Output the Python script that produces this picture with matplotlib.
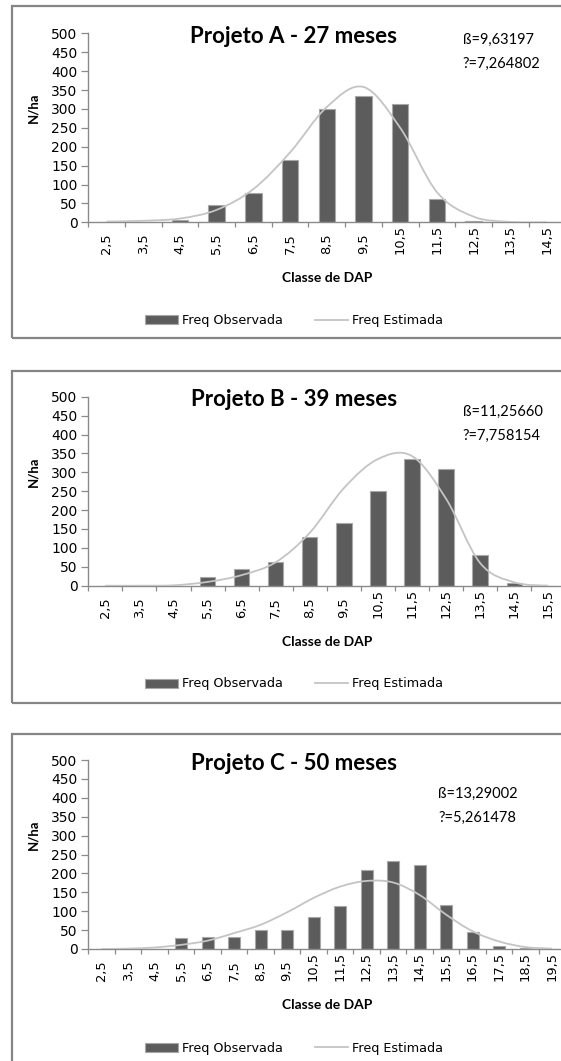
import matplotlib
matplotlib.use("Agg")
import matplotlib.pyplot as plt
from matplotlib.path import Path
from matplotlib.patches import PathPatch, Rectangle, Patch
from matplotlib.lines import Line2D
from matplotlib.transforms import blended_transform_factory, ScaledTranslation

# Projeto A - 27 meses
classes_a = ["2,5", "3,5", "4,5", "5,5", "6,5", "7,5", "8,5", "9,5", "10,5",
             "11,5", "12,5", "13,5", "14,5"]
obs_a = [1, 2, 5, 45, 77, 166, 300, 335, 312, 62, 4, 0, 0]
est_a = [2, 4, 10, 33, 88, 185, 305, 358, 250, 80, 15, 1, 0]

# Projeto B - 39 meses
classes_b = ["2,5", "3,5", "4,5", "5,5", "6,5", "7,5", "8,5", "9,5", "10,5",
             "11,5", "12,5", "13,5", "14,5", "15,5"]
obs_b = [0, 0, 0, 24, 44, 63, 130, 166, 251, 335, 309, 80, 7, 0]
est_b = [0, 0, 1, 10, 28, 62, 140, 258, 335, 343, 230, 60, 9, 0]

# Projeto C - 50 meses
classes_c = ["2,5", "3,5", "4,5", "5,5", "6,5", "7,5", "8,5", "9,5", "10,5",
             "11,5", "12,5", "13,5", "14,5", "15,5", "16,5", "17,5", "18,5", "19,5"]
obs_c = [0, 0, 0, 28, 33, 33, 49, 49, 85, 113, 208, 232, 223, 117, 45, 7, 3, 0]
est_c = [0, 1, 4, 11, 22, 42, 64, 97, 135, 165, 180, 176, 143, 91, 47, 20, 5, 1]

titles = ["Projeto A - 27 meses", "Projeto B - 39 meses", "Projeto C - 50 meses"]
beta_labels = ["ß=9,63197", "ß=11,25660", "ß=13,29002"]
gamma_labels = ["?=7,264802", "?=7,758154", "?=5,261478"]

W, H = 561, 1061
BAR_COLOR = "#5c5c5c"
BAR_EDGE = "#a8a8a8"
LINE_COLOR = "#c4c4c4"
AXIS_COLOR = "#8a8a8a"
FRAME_COLOR = "#858585"


def smooth_path(xs, ys):
    # Bezier curve through the points, like Excel's smoothed line
    n = len(xs)
    verts = [(xs[0], ys[0])]
    codes = [Path.MOVETO]
    for i in range(n - 1):
        xp, yp = xs[max(i - 1, 0)], ys[max(i - 1, 0)]
        xn, yn = xs[min(i + 2, n - 1)], ys[min(i + 2, n - 1)]
        c1 = (xs[i] + (xs[i + 1] - xp) / 6, ys[i] + (ys[i + 1] - yp) / 6)
        c2 = (xs[i + 1] - (xn - xs[i]) / 6, ys[i + 1] - (yn - ys[i]) / 6)
        verts += [c1, c2, (xs[i + 1], ys[i + 1])]
        codes += [Path.CURVE4] * 3
    return Path(verts, codes)


def draw_panel(fig, frame_top, ax_top, classes, obs, est, title,
               beta, gamma, ann_x, ann_dy, legend_y):
    # chart frame (runs off the right edge like the original)
    fig.patches.append(Rectangle(
        (12 / W, 1 - (frame_top + 332) / H), 566 / W, 332 / H,
        transform=fig.transFigure, fill=False,
        edgecolor=FRAME_COLOR, linewidth=1.6,
    ))

    ax = fig.add_axes([88.3 / W, 1 - (ax_top + 189) / H, 477 / W, 189 / H])
    n = len(classes)
    xs = list(range(n))

    ax.bar(xs, obs, width=0.45, color=BAR_COLOR,
           edgecolor=BAR_EDGE, linewidth=0.8, zorder=2)
    ax.add_patch(PathPatch(smooth_path(xs, est), fill=False,
                           edgecolor=LINE_COLOR, linewidth=1.3, zorder=3))

    ax.set_xlim(-0.5, n - 0.5)
    ax.set_ylim(0, 500)
    ax.set_yticks(range(0, 501, 50))
    ax.set_xticks([i - 0.5 for i in range(n + 1)])
    ax.set_xticklabels([])
    ax.tick_params(axis="y", length=5, width=0.9, color=AXIS_COLOR,
                   pad=2.8, labelsize=10, labelcolor="black")
    ax.tick_params(axis="x", length=3.6, width=0.9, color=AXIS_COLOR)
    for lbl in ax.get_yticklabels():
        lbl.set_family("DejaVu Sans")

    for side in ["top", "right"]:
        ax.spines[side].set_visible(False)
    for side in ["left", "bottom"]:
        ax.spines[side].set_color(AXIS_COLOR)
        ax.spines[side].set_linewidth(1.0)

    # category labels, bottom-aligned like Excel
    trans = blended_transform_factory(ax.transData, ax.transAxes) + \
        ScaledTranslation(0, -32 / 100, fig.dpi_scale_trans)
    for x, lab in zip(xs, classes):
        ax.text(x, 0, lab, transform=trans, rotation=90,
                ha="center", va="bottom", fontsize=9.4,
                family="DejaVu Sans")

    ax.text(0.5, -56 / 189, "Classe de DAP", transform=ax.transAxes,
            ha="center", va="center", fontsize=10, fontweight="bold",
            family="Lato")
    ax.text((33.8 - 88.3) / 477, (222.3 - 108) / 189, "N/ha",
            transform=ax.transAxes, rotation=90,
            ha="center", va="center", fontsize=9.5, fontweight="bold",
            family="Lato")

    fig.text(294 / W, 1 - (ax_top + 3) / H, title, ha="center", va="center",
             fontsize=16, fontweight="bold", family="Lato")

    fig.text(ann_x / W, 1 - (ax_top + ann_dy) / H, beta,
             ha="left", va="center", fontsize=10.5, family="Lato")
    fig.text(ann_x / W, 1 - (ax_top + ann_dy + 24) / H, gamma,
             ha="left", va="center", fontsize=10.5, family="Lato")

    handles = [
        Patch(facecolor=BAR_COLOR, edgecolor=BAR_EDGE, linewidth=0.8,
              label="Freq Observada"),
        Line2D([], [], color=LINE_COLOR, linewidth=1.3, label="Freq Estimada"),
    ]
    fig.legend(handles=handles, loc="center",
               bbox_to_anchor=(294 / W, 1 - legend_y / H), ncol=2,
               frameon=False, handlelength=2.6,
               handleheight=0.7, handletextpad=0.3, columnspacing=2.5,
               prop={"family": "DejaVu Sans", "size": 9.2})
    return ax


fig = plt.figure(figsize=(W / 100, H / 100), dpi=100)

draw_panel(fig, 6, 33.3, classes_a, obs_a, est_a, titles[0],
           beta_labels[0], gamma_labels[0], 462.7, 7, 320.7)
draw_panel(fig, 370.7, 396.7, classes_b, obs_b, est_b, titles[1],
           beta_labels[1], gamma_labels[1], 462.7, 15, 684)
draw_panel(fig, 734, 760, classes_c, obs_c, est_c, titles[2],
           beta_labels[2], gamma_labels[2], 438.3, 33.5, 1048.3)

fig.savefig("out.png", dpi=100)
